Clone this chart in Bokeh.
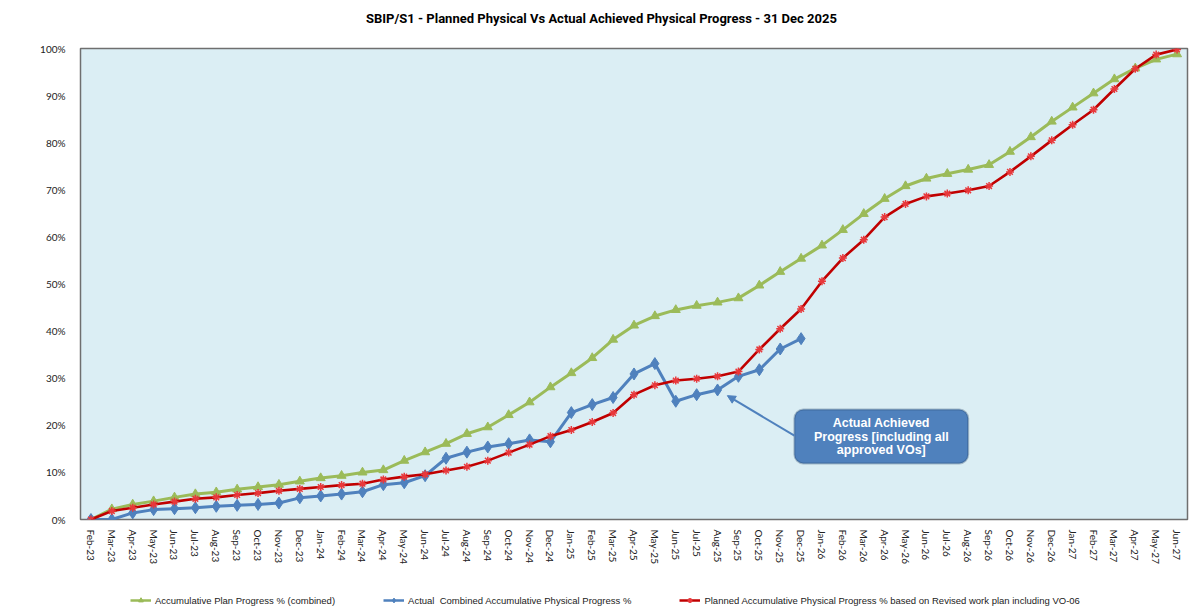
from bokeh.plotting import figure
from bokeh.layouts import column
from bokeh.models import (FactorRange, Range1d, Legend, LegendItem, BoxAnnotation,
                          Label, Arrow, NormalHead, FixedTicker, PrintfTickFormatter)
from bokeh.embed import file_html
from bokeh.resources import INLINE

months = ["Feb-23", "Mar-23", "Apr-23", "May-23", "Jun-23", "Jul-23", "Aug-23", "Sep-23",
          "Oct-23", "Nov-23", "Dec-23", "Jan-24", "Feb-24", "Mar-24", "Apr-24", "May-24",
          "Jun-24", "Jul-24", "Aug-24", "Sep-24", "Oct-24", "Nov-24", "Dec-24", "Jan-25",
          "Feb-25", "Mar-25", "Apr-25", "May-25", "Jun-25", "Jul-25", "Aug-25", "Sep-25",
          "Oct-25", "Nov-25", "Dec-25", "Jan-26", "Feb-26", "Mar-26", "Apr-26", "May-26",
          "Jun-26", "Jul-26", "Aug-26", "Sep-26", "Oct-26", "Nov-26", "Dec-26", "Jan-27",
          "Feb-27", "Mar-27", "Apr-27", "May-27", "Jun-27"]

plan_combined = [0, 2.2, 3.2, 3.9, 4.7, 5.4, 5.8, 6.4, 6.9, 7.4, 8.1, 8.8, 9.3, 10.0, 10.5,
                 12.5, 14.3, 16.1, 18.2, 19.6, 22.2, 24.9, 28.1, 31.1, 34.3, 38.2, 41.2,
                 43.2, 44.5, 45.4, 46.1, 47.0, 49.7, 52.6, 55.4, 58.2, 61.5, 64.9, 68.1,
                 70.8, 72.4, 73.4, 74.3, 75.3, 78.1, 81.2, 84.5, 87.5, 90.5, 93.5, 95.8,
                 97.7, 98.8]

actual_combined = [0, 0, 1.4, 2.1, 2.3, 2.5, 2.8, 3.0, 3.2, 3.5, 4.6, 5.0, 5.4, 5.9, 7.4,
                   7.8, 9.3, 13.0, 14.3, 15.4, 16.1, 16.9, 16.5, 22.7, 24.4, 25.9, 30.9,
                   33.1, 25.1, 26.5, 27.5, 30.4, 31.8, 36.2, 38.4]

revised_plan = [0, 1.8, 2.5, 3.2, 3.8, 4.4, 4.7, 5.2, 5.6, 6.1, 6.5, 6.9, 7.3, 7.6, 8.5,
                9.1, 9.6, 10.4, 11.2, 12.5, 14.2, 15.9, 17.7, 19.0, 20.7, 22.6, 26.5, 28.5,
                29.5, 29.9, 30.4, 31.4, 36.1, 40.5, 44.7, 50.6, 55.5, 59.4, 64.2, 67.0,
                68.6, 69.2, 69.9, 70.8, 73.8, 77.1, 80.5, 83.8, 87.0, 91.4, 95.7, 98.7, 99.8]

y_ticks = [0, 10, 20, 30, 40, 50, 60, 70, 80, 90, 100]

series_labels = ["Accumulative Plan Progress % (combined)",
                 "Actual  Combined Accumulative Physical Progress %",
                 "Planned Accumulative Physical Progress % based on Revised work plan including VO-06"]
callout_lines = ["Actual Achieved", "Progress [including all", "approved VOs]"]
title_text = "SBIP/S1 - Planned Physical Vs Actual Achieved Physical Progress - 31 Dec 2025"

GREEN = "#9BBB59"
BLUE = "#4F81BD"
RED = "#C00000"
RED_MK = "#E8383B"

W = 1190


def strip(h):
    f = figure(width=W, height=h, x_range=Range1d(0, 1), y_range=Range1d(0, 1),
               output_backend="svg", toolbar_location=None, x_axis_type=None,
               y_axis_type=None, min_border=0, outline_line_color=None,
               background_fill_color="white", border_fill_color="white")
    f.xgrid.grid_line_color = None
    f.ygrid.grid_line_color = None
    return f


# title strip (its frame is aligned with the chart frame)
tf = strip(40)
tf.add_layout(Label(x=0.4706, y=0.55, text=title_text, text_align="center",
                    text_baseline="middle", text_font="Roboto", text_font_size="13px",
                    text_font_style="bold", text_color="#000000"))

p = figure(x_range=FactorRange(factors=months, range_padding=0),
           y_range=Range1d(0, 100),
           width=W, height=536, output_backend="svg", toolbar_location=None,
           min_border_left=80, min_border_right=3, min_border_bottom=57, min_border_top=8,
           background_fill_color="#DBEEF4", border_fill_color="white")

p.outline_line_color = "#6f6f6f"
p.outline_line_width = 1.5
p.xgrid.grid_line_color = None
p.ygrid.grid_line_color = None

p.yaxis.ticker = FixedTicker(ticks=y_ticks)
p.yaxis.formatter = PrintfTickFormatter(format="%d%%")
for ax in (p.xaxis[0], p.yaxis[0]):
    ax.axis_line_color = None
    ax.major_tick_line_color = None
    ax.minor_tick_line_color = None
    ax.major_label_text_font = "Lato"
    ax.major_label_text_font_size = "10px"
    ax.major_label_text_color = "#222222"
p.yaxis.major_label_standoff = 9
p.xaxis.major_label_orientation = "vertical"
p.xaxis.major_label_standoff = 4

n_act = len(actual_combined)

p.line(months, plan_combined, line_color=GREEN, line_width=3)
p.scatter(months, plan_combined, marker="triangle", size=9,
          fill_color=GREEN, line_color=GREEN)
p.line(months[:n_act], actual_combined, line_color=BLUE, line_width=3)
p.scatter(months[:n_act], actual_combined, marker="diamond", size=12,
          fill_color=BLUE, line_color=BLUE)
p.line(months, revised_plan, line_color=RED, line_width=2.6)
p.scatter(months, revised_plan, marker="asterisk", size=8,
          line_color=RED_MK, line_width=1.5)

# callout
box = BoxAnnotation(left=34.18, right=42.5, bottom=11.9, top=23.35,
                    fill_color=BLUE, fill_alpha=1, line_color="#1F3A60", line_width=2,
                    border_radius=9)
p.add_layout(box)
p.add_layout(Arrow(end=NormalHead(size=8, fill_color=BLUE, line_color=BLUE),
                   x_start=34.18, y_start=17.8, x_end=30.97, y_end=26.3,
                   line_color=BLUE, line_width=2))
for txt, yy in zip(callout_lines, [20.5, 17.6, 14.7]):
    p.add_layout(Label(x=38.34, y=yy, text=txt, text_align="center",
                       text_baseline="middle", text_color="white",
                       text_font="Liberation Sans", text_font_style="bold",
                       text_font_size="12.5px"))

# legend strip below the chart
lf = strip(30)
nan = [float("nan")]
k_lg = lf.line(nan, nan, line_color=GREEN, line_width=2.5)
k_sg = lf.scatter(nan, nan, marker="triangle", size=7, fill_color=GREEN, line_color=GREEN)
k_lb = lf.line(nan, nan, line_color=BLUE, line_width=2.5)
k_sb = lf.scatter(nan, nan, marker="diamond", size=8, fill_color=BLUE, line_color=BLUE)
k_lr = lf.line(nan, nan, line_color=RED, line_width=2.5)
k_sr = lf.scatter(nan, nan, marker="asterisk", size=6, line_color=RED_MK, line_width=1.5)

legend = Legend(items=[LegendItem(label=series_labels[0], renderers=[k_lg, k_sg]),
                       LegendItem(label=series_labels[1], renderers=[k_lb, k_sb]),
                       LegendItem(label=series_labels[2], renderers=[k_lr, k_sr])],
                orientation="horizontal", location=(50, 0),
                background_fill_alpha=0, border_line_alpha=0,
                label_text_font="Liberation Sans", label_text_font_size="9.5px",
                label_text_color="#222222",
                glyph_width=21, glyph_height=12, label_standoff=4, spacing=48,
                padding=0, margin=0)
lf.add_layout(legend)

open("out.html", "w").write(file_html(column(tf, p, lf, spacing=0), INLINE))
